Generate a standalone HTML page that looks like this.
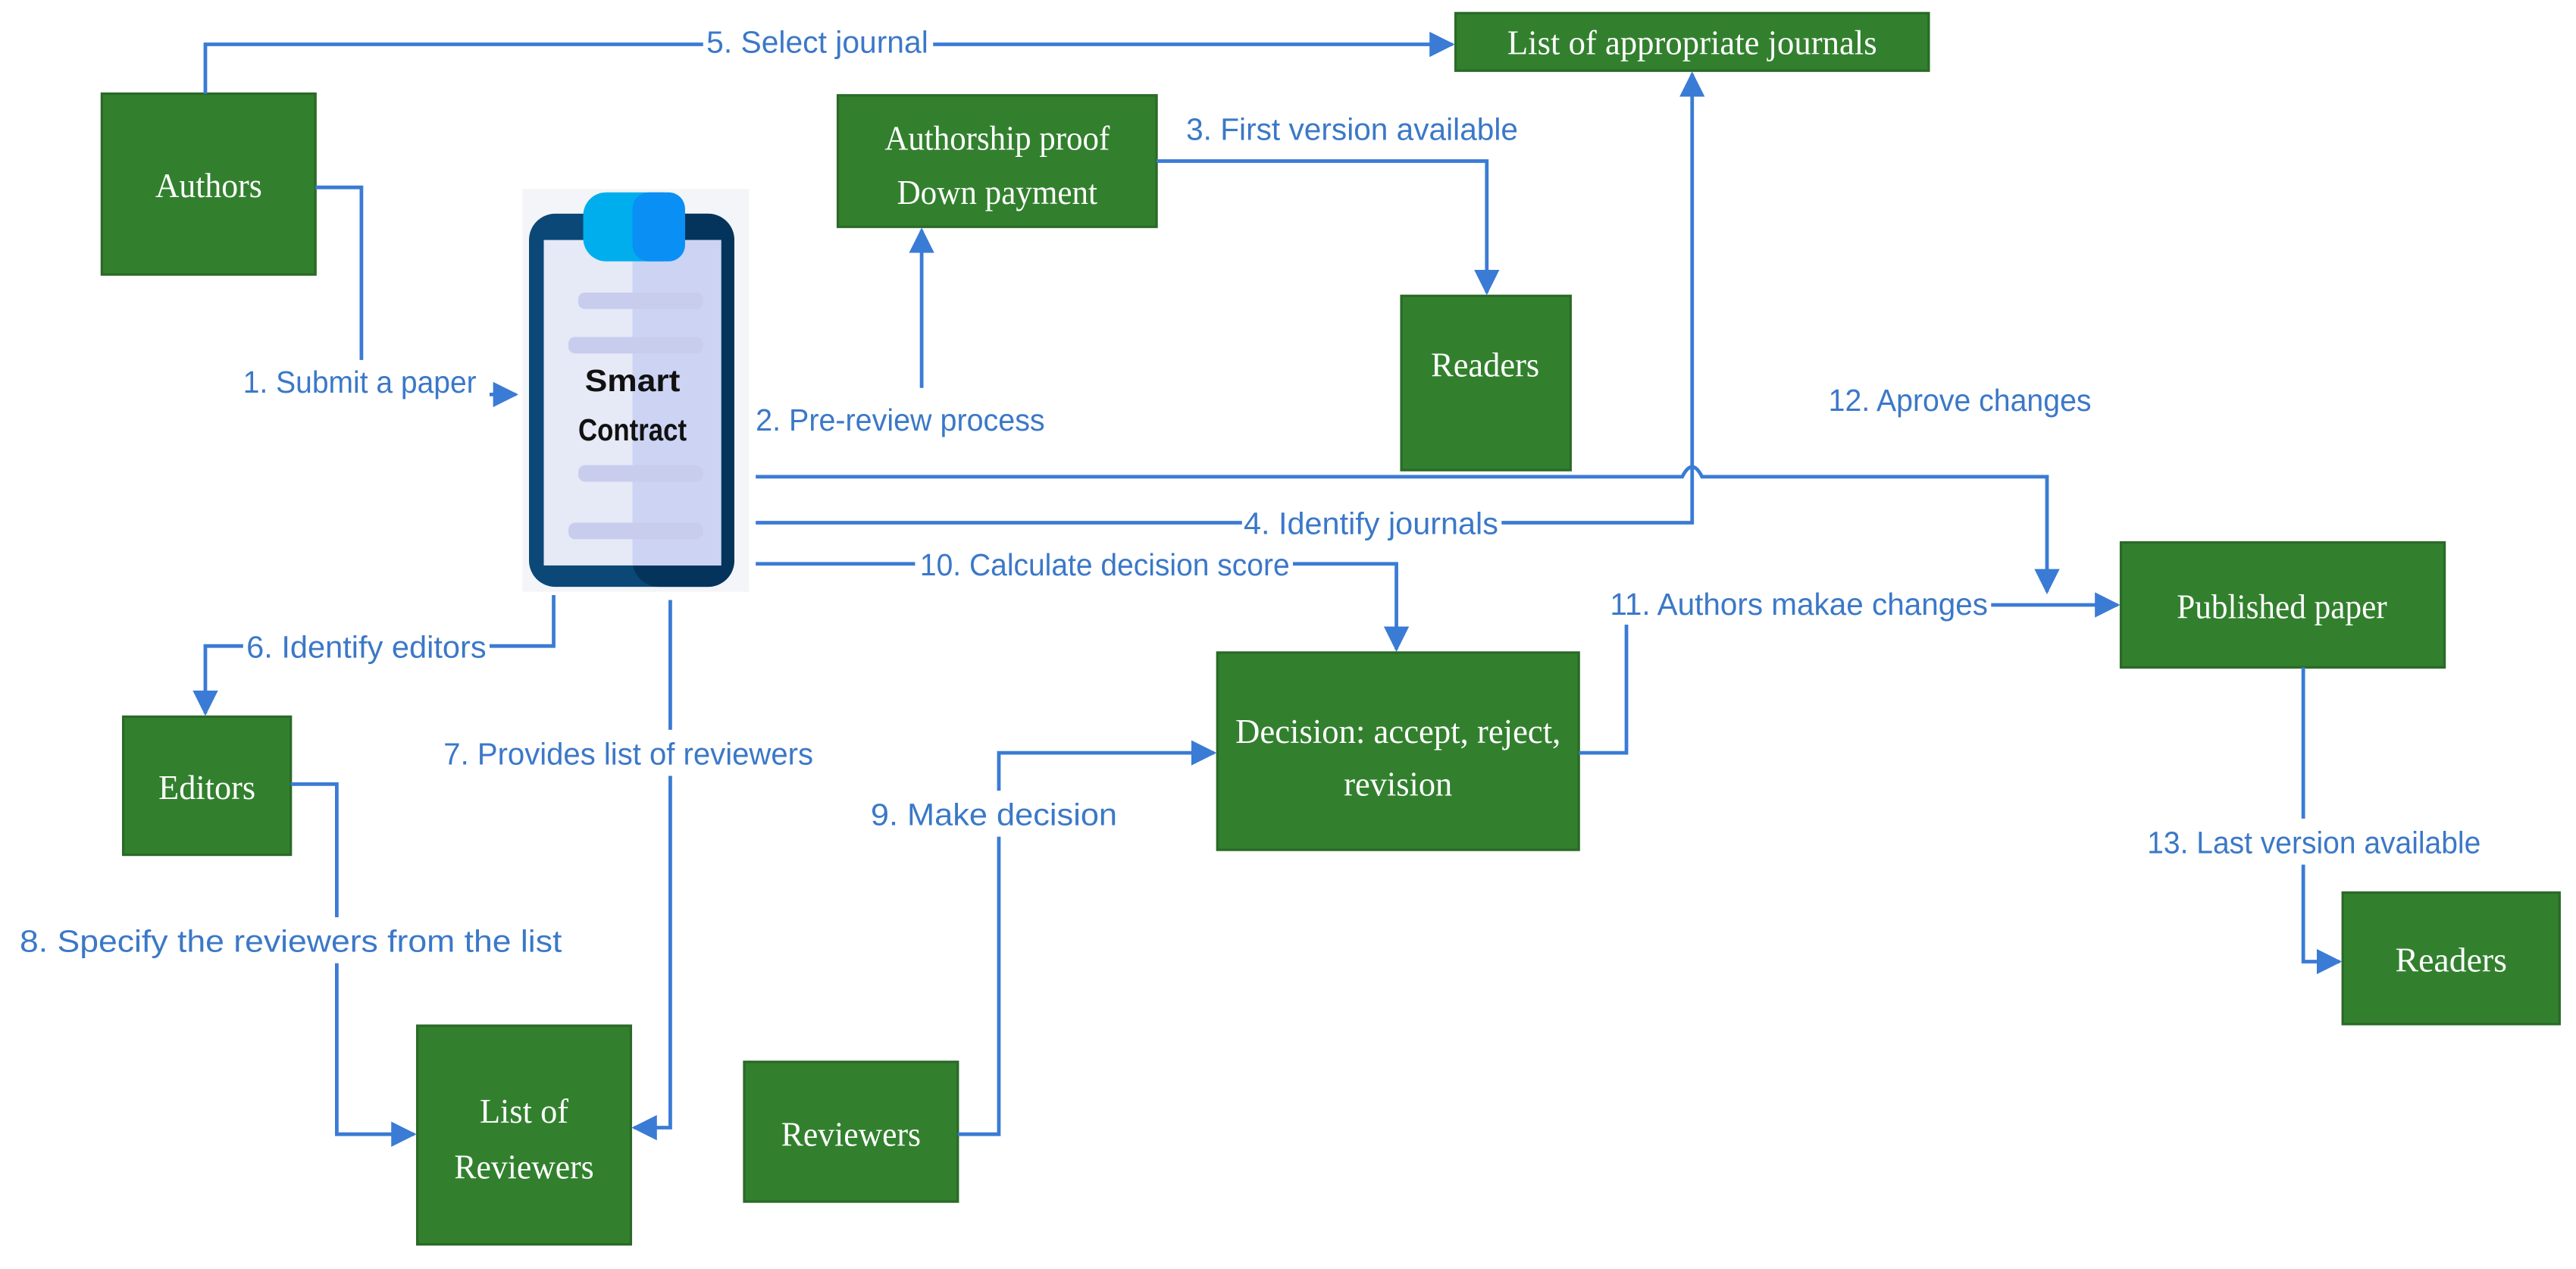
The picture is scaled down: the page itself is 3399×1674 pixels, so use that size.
<!DOCTYPE html>
<html><head><meta charset="utf-8"><style>
html,body{margin:0;padding:0;background:#fff;}
svg{display:block;}
.lbl{font-family:"Liberation Sans",sans-serif;font-size:19px;fill:#3b78c8;}
.nd{font-family:"Liberation Serif",serif;font-size:21px;fill:#fff;text-anchor:middle;}
.ln{stroke:#3a7bd5;stroke-width:2.2;fill:none;}
</style></head><body>
<svg width="3399" height="1674" viewBox="0 0 1568 772" preserveAspectRatio="none" xmlns="http://www.w3.org/2000/svg">
<defs>
<marker id="a" viewBox="0 0 10 10" refX="9" refY="5" markerWidth="6" markerHeight="6" orient="auto" markerUnits="userSpaceOnUse"><path d="M0,0 L10,5 L0,10 z" fill="#3a7bd5"/></marker>
<marker id="b" viewBox="0 0 10 10" refX="9" refY="5" markerWidth="7" markerHeight="9" orient="auto"><path d="M0,0 L10,5 L0,10 z" fill="#3a7bd5"/></marker>
</defs>
<rect width="1568" height="772" fill="#fff"/>
<g fill="#32802e" stroke="#2a6a27" stroke-width="1.5">
<rect x="886" y="8" width="288" height="35"/>
<rect x="62" y="57" width="130" height="110"/>
<rect x="510" y="58" width="194" height="80"/>
<rect x="853" y="180" width="103" height="106"/>
<rect x="1291" y="330" width="197" height="76"/>
<rect x="741" y="397" width="220" height="120"/>
<rect x="75" y="436" width="102" height="84"/>
<rect x="254" y="624" width="130" height="133"/>
<rect x="453" y="646" width="130" height="85"/>
<rect x="1426" y="543" width="132" height="80"/>
</g>
<text class="nd" x="1030" y="33" textLength="225" lengthAdjust="spacingAndGlyphs">List of appropriate journals</text>
<text class="nd" x="127" y="120" textLength="65" lengthAdjust="spacingAndGlyphs">Authors</text>
<text class="nd" x="607" y="91" textLength="137" lengthAdjust="spacingAndGlyphs">Authorship proof</text>
<text class="nd" x="607" y="124" textLength="122" lengthAdjust="spacingAndGlyphs">Down payment</text>
<text class="nd" x="904" y="229" textLength="66" lengthAdjust="spacingAndGlyphs">Readers</text>
<text class="nd" x="1389" y="376" textLength="128" lengthAdjust="spacingAndGlyphs">Published paper</text>
<text class="nd" x="851" y="452" textLength="198" lengthAdjust="spacingAndGlyphs">Decision: accept, reject,</text>
<text class="nd" x="851" y="484" textLength="66" lengthAdjust="spacingAndGlyphs">revision</text>
<text class="nd" x="126" y="486" textLength="59" lengthAdjust="spacingAndGlyphs">Editors</text>
<text class="nd" x="319" y="683" textLength="54" lengthAdjust="spacingAndGlyphs">List of</text>
<text class="nd" x="319" y="717" textLength="85" lengthAdjust="spacingAndGlyphs">Reviewers</text>
<text class="nd" x="518" y="697" textLength="85" lengthAdjust="spacingAndGlyphs">Reviewers</text>
<text class="nd" x="1492" y="591" textLength="68" lengthAdjust="spacingAndGlyphs">Readers</text>
<!-- smart contract -->
<rect x="318" y="115" width="138" height="245" fill="#f4f5f8"/>
<rect x="322" y="130" width="125" height="227" rx="16" fill="#0b4877"/>
<rect x="385" y="130" width="62" height="227" rx="16" fill="#04345c"/>
<rect x="331" y="146" width="108" height="198" fill="#e6e9f6"/>
<rect x="385" y="146" width="54" height="198" fill="#ccd3f3"/>
<rect x="355" y="117" width="62" height="42" rx="14" fill="#00aeee"/>
<rect x="385" y="117" width="32" height="42" rx="10" fill="#0a8ff5"/>
<g fill="#c8cdee"><rect x="352" y="178" width="76" height="10" rx="4"/><rect x="346" y="205" width="82" height="10" rx="4"/><rect x="352" y="283" width="76" height="10" rx="4"/><rect x="346" y="318" width="82" height="10" rx="4"/></g>
<text x="385" y="238" font-family="Liberation Sans,sans-serif" font-weight="bold" font-size="19" text-anchor="middle" fill="#111" textLength="58" lengthAdjust="spacingAndGlyphs">Smart</text>
<text x="385" y="268" font-family="Liberation Sans,sans-serif" font-weight="bold" font-size="19" text-anchor="middle" fill="#111" textLength="66" lengthAdjust="spacingAndGlyphs">Contract</text>
<!-- connectors -->
<path class="ln" d="M125,57 V27 H884" marker-end="url(#b)"/>
<path class="ln" d="M192,114 H220 V228"/>
<path class="ln" d="M298,240 H314" marker-end="url(#b)"/>
<path class="ln" d="M561,236 V140" marker-end="url(#b)"/>
<path class="ln" d="M704,98 H905 V178" marker-end="url(#b)"/>
<path class="ln" d="M460,290 H1024 Q1030,278 1036,290 H1246 V360" marker-end="url(#b)"/>
<path class="ln" d="M460,318 H1030 V45" marker-end="url(#b)"/>
<path class="ln" d="M460,343 H850 V395" marker-end="url(#b)"/>
<path class="ln" d="M961,458 H990 V368 H1289" marker-end="url(#b)"/>
<path class="ln" d="M337,362 V393 H125 V434" marker-end="url(#b)"/>
<path class="ln" d="M408,365 V686 H386" marker-end="url(#b)"/>
<path class="ln" d="M177,477 H205 V690 H252" marker-end="url(#b)"/>
<path class="ln" d="M583,690 H608 V458 H739" marker-end="url(#b)"/>
<path class="ln" d="M1402,406 V585 H1424" marker-end="url(#b)"/>
<!-- labels with white background -->
<g fill="#fff">
<rect x="428" y="12" width="140" height="26"/>
<rect x="146" y="219" width="148" height="28"/>
<rect x="756" y="305" width="158" height="26"/>
<rect x="557" y="330" width="230" height="26"/>
<rect x="978" y="354" width="234" height="26"/>
<rect x="148" y="380" width="150" height="26"/>
<rect x="266" y="444" width="232" height="28"/>
<rect x="10" y="558" width="334" height="28"/>
<rect x="528" y="481" width="154" height="28"/>
<rect x="1305" y="498" width="208" height="28"/>
</g>
<text class="lbl" x="430" y="32" textLength="135" lengthAdjust="spacingAndGlyphs">5. Select journal</text>
<text class="lbl" x="148" y="239" textLength="142" lengthAdjust="spacingAndGlyphs">1. Submit a paper</text>
<text class="lbl" x="460" y="262" textLength="176" lengthAdjust="spacingAndGlyphs">2. Pre-review process</text>
<text class="lbl" x="722" y="85" textLength="202" lengthAdjust="spacingAndGlyphs">3. First version available</text>
<text class="lbl" x="1113" y="250" textLength="160" lengthAdjust="spacingAndGlyphs">12. Aprove changes</text>
<text class="lbl" x="757" y="325" textLength="155" lengthAdjust="spacingAndGlyphs">4. Identify journals</text>
<text class="lbl" x="560" y="350" textLength="225" lengthAdjust="spacingAndGlyphs">10. Calculate decision score</text>
<text class="lbl" x="980" y="374" textLength="230" lengthAdjust="spacingAndGlyphs">11. Authors makae changes</text>
<text class="lbl" x="150" y="400" textLength="146" lengthAdjust="spacingAndGlyphs">6. Identify editors</text>
<text class="lbl" x="270" y="465" textLength="225" lengthAdjust="spacingAndGlyphs">7. Provides list of reviewers</text>
<text class="lbl" x="12" y="579" textLength="330" lengthAdjust="spacingAndGlyphs">8. Specify the reviewers from the list</text>
<text class="lbl" x="530" y="502" textLength="150" lengthAdjust="spacingAndGlyphs">9. Make decision</text>
<text class="lbl" x="1307" y="519" textLength="203" lengthAdjust="spacingAndGlyphs">13. Last version available</text>
</svg>
</body></html>
